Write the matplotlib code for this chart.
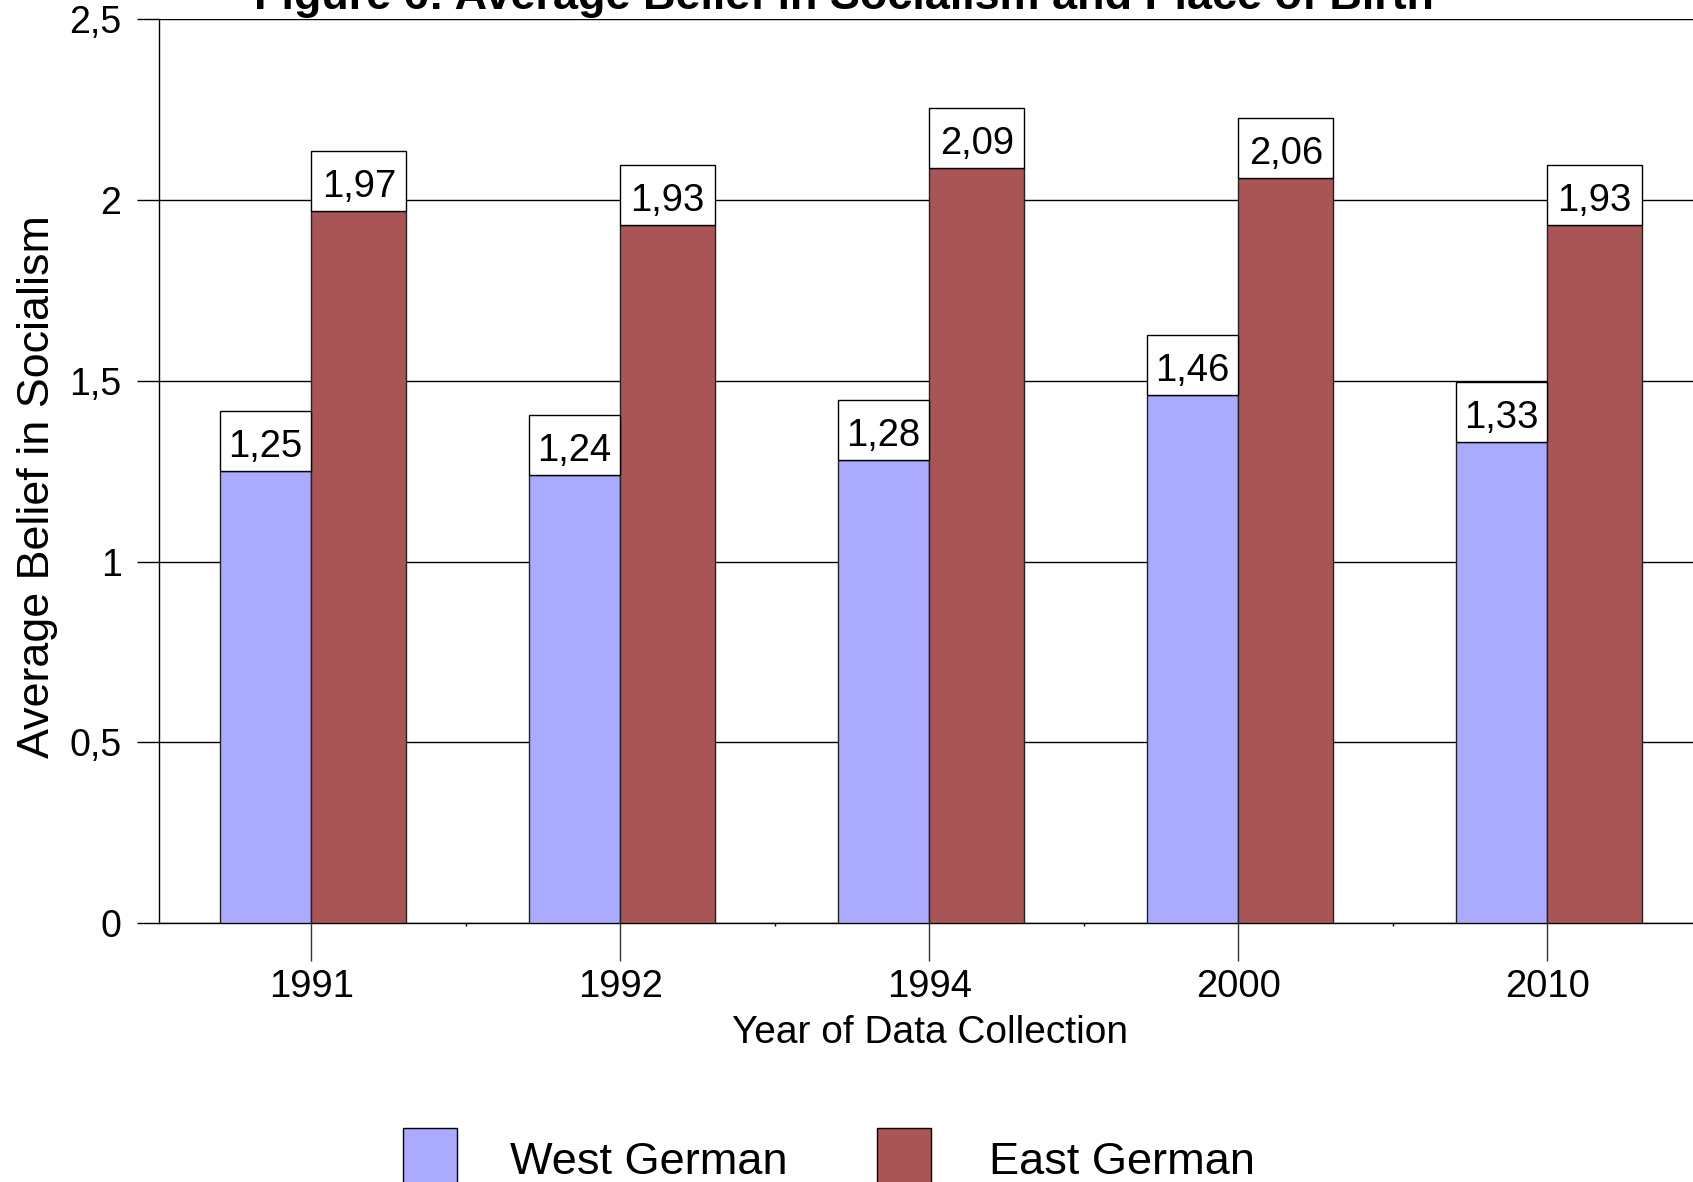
import matplotlib
matplotlib.use("Agg")
import matplotlib.pyplot as plt
from matplotlib.patches import Rectangle
import numpy as np

years = ["1991", "1992", "1994", "2000", "2010"]
west = [1.25, 1.24, 1.28, 1.46, 1.33]
east = [1.97, 1.93, 2.09, 2.06, 1.93]
series_names = ["West German", "East German"]
yticks = [0, 0.5, 1, 1.5, 2, 2.5]
title = "Figure 6: Average Belief in Socialism and Place of Birth"
xlabel = "Year of Data Collection"
ylabel = "Average Belief in Socialism"

plt.rcParams['font.family'] = ['Liberation Sans', 'DejaVu Sans']
W, H = 1693, 1182
fig = plt.figure(figsize=(W / 100, H / 100), dpi=100)
ax_top_px, ax_bot_px = 19.4, 923
ax = fig.add_axes([159 / W, 1 - ax_bot_px / H, (1704 - 159) / W, (ax_bot_px - ax_top_px) / H])

c_west = "#aaaaff"
c_east = "#aa5555"
x = np.arange(len(years))
bw_w = 0.297
bw_e = 0.307
ax.bar(x - bw_w, west, width=bw_w, align='edge', color=c_west, edgecolor='#222222', linewidth=1.0, zorder=3)
ax.bar(x, east, width=bw_e, align='edge', color=c_east, edgecolor='#222222', linewidth=1.0, zorder=3)

def fmt(v):
    return f"{v:.2f}".replace('.', ',')

ymax = 2.5
px2data = ymax / (ax_bot_px - ax_top_px)
box_h = 60 * px2data
base_off = 14 * px2data
fs_val = 27.5

def label(xl, w, v):
    ax.add_patch(Rectangle((xl, v), w, box_h, facecolor='white', edgecolor='black',
                           linewidth=1.0, zorder=5, clip_on=False))
    ax.text(xl + w / 2, v + base_off, fmt(v), ha='center', va='baseline',
            fontsize=fs_val, zorder=6, color='black')

for xi, v in zip(x, west):
    label(xi - bw_w, bw_w, v)
for xi, v in zip(x, east):
    label(xi, bw_e, v)

ax.set_xlim(-0.493, len(years) - 0.493)
ax.set_ylim(0, ymax)
ax.set_yticks(yticks)
ax.set_yticklabels([fmt(t).rstrip('0').rstrip(',') if t != 0 else "0" for t in yticks])
ax.set_xticks(x)
ax.set_xticklabels(years)
ax.set_xticks(np.arange(len(years) - 1) + 0.5, minor=True)
ax.tick_params(axis='x', which='minor', length=2, width=1, direction='out')
ax.tick_params(axis='x', which='major', length=27, width=1, direction='out', pad=6, labelsize=27.5, colors='#333333', labelcolor='black')
ax.tick_params(axis='y', which='major', length=16, width=1, direction='out', pad=11, labelsize=27)
ax.yaxis.grid(True, color='black', linewidth=1.0, zorder=0)
ax.set_axisbelow(True)
for s in ['top', 'right']:
    ax.spines[s].set_visible(False)
ax.spines['left'].set_linewidth(1.0)
ax.spines['bottom'].set_linewidth(1.0)

fig.text(930 / W, 1 - 1033 / H, xlabel, ha='center', va='center', fontsize=28)
fig.text(38 / W, 1 - 487 / H, ylabel, ha='center', va='center', rotation=90, fontsize=32.3)
fig.text(0.4985, 1 - 9 / H, title, ha='center', va='baseline', fontsize=32.4, fontweight='bold')

# legend
for (lx, tx, col, name) in [(403, 510, c_west, series_names[0]), (877, 989, c_east, series_names[1])]:
    fig.patches.append(Rectangle((lx / W, 1 - 1190 / H), 54 / W, 62 / H, transform=fig.transFigure,
                                 facecolor=col, edgecolor='black', linewidth=1.0))
    fig.text(tx / W, 1 - 1174 / H, name, ha='left', va='baseline', fontsize=32.5)

fig.savefig("out.png", dpi=100)
